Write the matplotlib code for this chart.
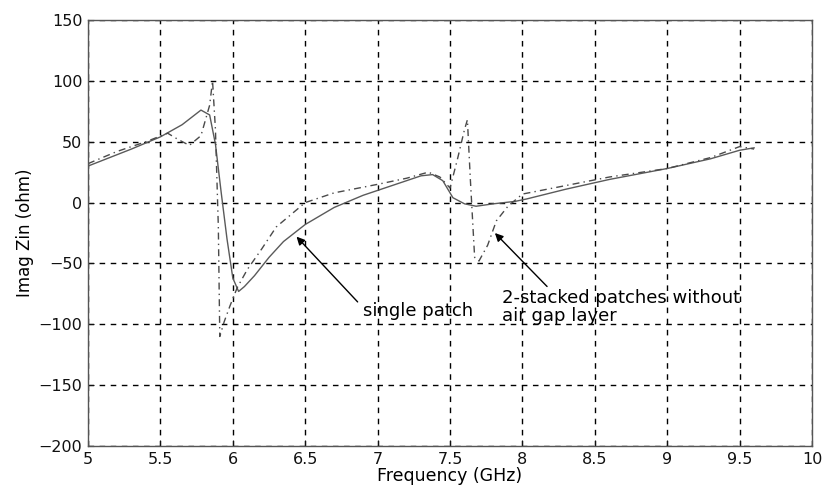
import matplotlib
matplotlib.use("Agg")
import matplotlib.pyplot as plt

plt.rcParams['font.family'] = ['DejaVu Sans']

# single patch (solid)
single_f = [5.0, 5.15, 5.3, 5.5, 5.65, 5.78, 5.84, 5.88, 5.92, 5.96, 6.0, 6.04, 6.08,
            6.15, 6.25, 6.35, 6.5, 6.7, 6.9, 7.1, 7.3, 7.38, 7.45, 7.52, 7.6, 7.68,
            7.8, 7.95, 8.03, 8.3, 8.6, 9.0, 9.3, 9.5, 9.6]
single_x = [30, 37, 44, 54, 64, 76, 72, 48, 8, -30, -62, -73, -69,
            -60, -45, -32, -18, -4, 6, 14, 22, 23, 18, 4, -1, -3,
            -1, 1, 3, 11, 19, 28, 36, 43, 45]

# 2-stacked patches without air gap layer (dashed)
stack_f = [5.0, 5.2, 5.4, 5.55, 5.62, 5.7, 5.78, 5.84, 5.86, 5.88, 5.9, 5.91, 5.94,
           5.98, 6.03, 6.1, 6.2, 6.3, 6.5, 6.7, 7.0, 7.2, 7.35, 7.43, 7.5, 7.55,
           7.6, 7.62, 7.64, 7.67, 7.7, 7.76, 7.82, 7.9, 8.0, 8.3, 8.6, 9.0, 9.3,
           9.5, 9.6]
stack_x = [32, 42, 50, 57, 52, 47, 55, 80, 100, 60, -20, -110, -98,
           -85, -70, -55, -38, -20, 0, 8, 15, 20, 25, 21, 12, 35,
           60, 68, 20, -45, -48, -35, -15, -3, 7, 14, 21, 28, 37,
           46, 44]

xticks = [5, 5.5, 6, 6.5, 7, 7.5, 8, 8.5, 9, 9.5, 10]
xtick_labels = ['5', '5.5', '6', '6.5', '7', '7.5', '8', '8.5', '9', '9.5', '10']
yticks = [-200, -150, -100, -50, 0, 50, 100, 150]

fig = plt.figure(figsize=(8.28, 4.93), dpi=100)
ax = fig.add_axes([0.1063, 0.0953, 0.8744, 0.8641])

ax.plot(single_f, single_x, color='#5a5a5a', lw=1.0, ls='-')
ax.plot(stack_f, stack_x, color='#4a4a4a', lw=1.0, ls=(0, (5, 3, 1, 3)))

ax.set_xlim(5, 10)
ax.set_ylim(-200, 150)
ax.set_xticks(xticks)
ax.set_xticklabels(xtick_labels)
ax.set_yticks(yticks)
ax.tick_params(direction='in', length=4, labelsize=11.5, colors='#111111', pad=4)
ax.grid(True, color='black', ls=(0, (4, 4)), lw=1.0)
for s in ax.spines.values():
    s.set_color('#555555')
    s.set_linewidth(1.0)

ax.set_xlabel('Frequency (GHz)', fontsize=12.5, labelpad=0)
ax.set_ylabel('Imag Zin (ohm)', fontsize=12, labelpad=3)

ax.annotate('single patch', xy=(6.44, -28), xytext=(6.90, -89),
            fontsize=13, va='center', ha='left',
            arrowprops=dict(arrowstyle='-|>', color='black', lw=1.0,
                            shrinkA=0, shrinkB=0, mutation_scale=12,
                            relpos=(-0.05, 1.0)))
ax.annotate('2-stacked patches without\nair gap layer', xy=(7.81, -25), xytext=(7.86, -86),
            fontsize=13, va='center', ha='left', linespacing=1.0,
            arrowprops=dict(arrowstyle='-|>', color='black', lw=1.0,
                            shrinkA=0, shrinkB=0, mutation_scale=12,
                            relpos=(0.2, 1.0)))

fig.savefig('out.png', dpi=100)
